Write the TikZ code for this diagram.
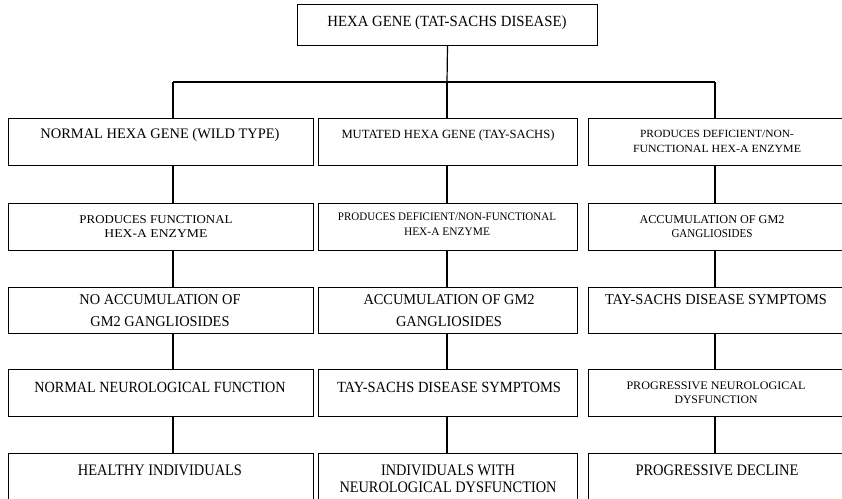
\documentclass[tikz,border=0pt]{standalone}
\usepackage{fontspec}
\setmainfont{Liberation Serif}
\usepackage{graphicx}
% squeeze one line of text to a given width, keeping its height
\newcommand{\fitline}[2]{\resizebox{#1pt}{\height}{#2}}
\newcommand{\fs}[2]{\fontsize{#1}{#2}\selectfont}
\tikzset{
  box/.style={draw=black, line width=1pt, rectangle, inner sep=0pt, anchor=north west},
  txt/.style={align=center, inner sep=0pt, text=black},
  link/.style={draw=black, line width=1.2pt},
}
\begin{document}
\begin{tikzpicture}[x=1pt,y=-1pt]
\useasboundingbox (0,0) rectangle (842,498);

% column axes and the branching bar
\coordinate (k1) at (173,0);
\coordinate (k2) at (447,0);
\coordinate (k3) at (715,0);
\coordinate (bar) at (447,82);

% boxes
\node[box, minimum width=300pt, minimum height=41pt] (top) at (297,4) {};
\foreach \r/\y/\h in {1/118/47, 2/203/47, 3/287/46, 4/369/47, 5/453/52} {
  \node[box, minimum width=305pt, minimum height=\h pt] (b\r1) at (8,\y) {};
  \node[box, minimum width=259pt, minimum height=\h pt] (b\r2) at (318,\y) {};
  \node[box, minimum width=262pt, minimum height=\h pt] (b\r3) at (588,\y) {};
}

% texts
\node[txt, font=\fs{15.5}{18}] (ttop) at (447,23) {\fitline{239}{HEXA GENE (TAT-SACHS DISEASE)}};

\node[txt, font=\fs{14.5}{18}] (t11) at (160,135) {\fitline{239}{NORMAL HEXA GENE (WILD TYPE)}};
\node[txt, font=\fs{12.5}{15}] (t12) at (448,135) {\fitline{213}{MUTATED HEXA GENE (TAY-SACHS)}};
\node[txt, font=\fs{11}{15}] (t13) at (717,141.5) {\fitline{154}{PRODUCES DEFICIENT/NON-}\\\fitline{168}{FUNCTIONAL HEX-A ENZYME}};

\node[txt, font=\fs{12}{14}] (t21) at (156,227) {\fitline{153}{PRODUCES FUNCTIONAL}\\\fitline{103}{HEX-A ENZYME}};
\node[txt, font=\fs{11.5}{15}] (t22) at (447,224.5) {\fitline{218}{PRODUCES DEFICIENT/NON-FUNCTIONAL}\\\fitline{86}{HEX-A ENZYME}};
\node[txt, font=\fs{12}{14}] (t23) at (712,227) {\fitline{145}{ACCUMULATION OF GM2}\\\fitline{81}{GANGLIOSIDES}};

\node[txt, font=\fs{15}{22}] (t31) at (160,310.5) {\fitline{161}{NO ACCUMULATION OF}\\\fitline{139}{GM2 GANGLIOSIDES}};
\node[txt, font=\fs{15}{22}] (t32) at (449,310.5) {\fitline{171}{ACCUMULATION OF GM2}\\\fitline{106}{GANGLIOSIDES}};
\node[txt, font=\fs{15}{18}] (t33) at (716,300) {\fitline{222}{TAY-SACHS DISEASE SYMPTOMS}};

\node[txt, font=\fs{15.5}{18}] (t41) at (160,387) {\fitline{251}{NORMAL NEUROLOGICAL FUNCTION}};
\node[txt, font=\fs{15.5}{18}] (t42) at (449,387) {\fitline{224}{TAY-SACHS DISEASE SYMPTOMS}};
\node[txt, font=\fs{11.5}{13.5}] (t43) at (716,392.5) {\fitline{179}{PROGRESSIVE NEUROLOGICAL}\\\fitline{83}{DYSFUNCTION}};

\node[txt, font=\fs{16}{18}] (t51) at (160,470) {\fitline{164}{HEALTHY INDIVIDUALS}};
\node[txt, font=\fs{16}{17}] (t52) at (448,478.5) {\fitline{134}{INDIVIDUALS WITH}\\\fitline{217}{NEUROLOGICAL DYSFUNCTION}};
\node[txt, font=\fs{16}{18}] (t53) at (717,470) {\fitline{163}{PROGRESSIVE DECLINE}};

% connectors
\draw[link] (top.south) -- (bar);
\draw[link] (k1 |- bar) -- (k3 |- bar);
\draw[link] (k1 |- bar) -- (b11.north -| k1);
\draw[link] (bar) -- (b12.north -| k2);
\draw[link] (k3 |- bar) -- (b13.north -| k3);
\foreach \r/\n in {1/2, 2/3, 3/4, 4/5} {
  \foreach \c in {1,2,3} {
    \draw[link] (b\r\c.south -| k\c) -- (b\n\c.north -| k\c);
  }
}
\end{tikzpicture}
\end{document}
